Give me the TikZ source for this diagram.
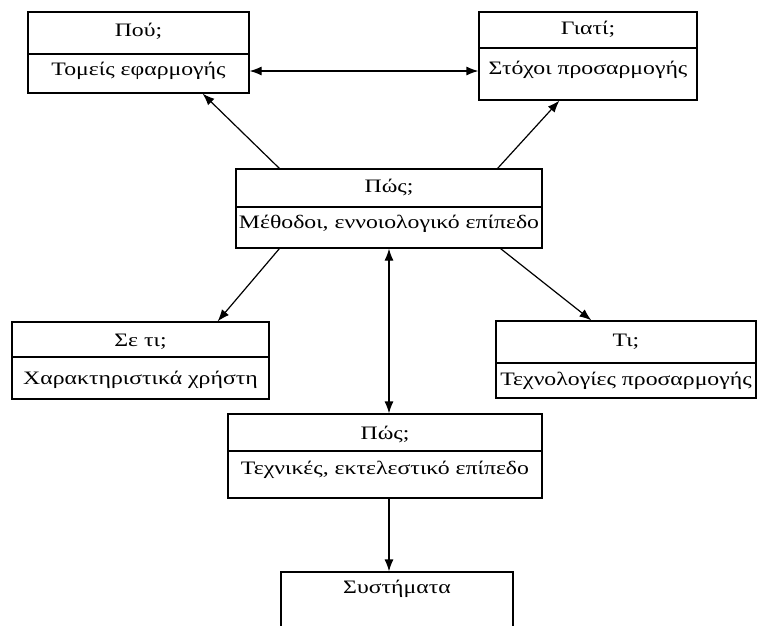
\documentclass[tikz,border=0pt]{standalone}
\usepackage{fontspec}
\setmainfont{Liberation Serif}[FakeStretch=1.25]
\usepackage{tikz}
\usetikzlibrary{arrows.meta}

\begin{document}
\begin{tikzpicture}[x=1pt, y=-1pt, line width=1.2pt, box/.style={draw, inner sep=0pt},
	txt/.style={inner sep=0pt, font=\fontsize{19}{22}\selectfont},
	link/.style={-{Latex[length=12pt,width=9pt]}},
	dlink/.style={{Latex[length=12pt,width=9pt]}-{Latex[length=12pt,width=9pt]}}]
			\clip (0,0) rectangle (761,625);
			\fill[white] (0,0) rectangle (761,625);
			% Boxes
			\node[box, minimum width=221, minimum height=81] (pou) at (138.5,52.5) {};
			\node[box, minimum width=218, minimum height=88] (giati) at (588,56) {};
			\node[box, minimum width=306, minimum height=79] (pos1) at (389,208.5) {};
			\node[box, minimum width=257, minimum height=77] (seti) at (140.5,360.5) {};
			\node[box, minimum width=260, minimum height=77] (ti) at (626,359.5) {};
			\node[box, minimum width=314, minimum height=84] (pos2) at (385,456) {};
			\node[box, minimum width=232, minimum height=90] (syst) at (397,617) {};
			% Dividers
			\draw (pou.west |- 0,54) -- (pou.east |- 0,54);
			\draw (giati.west |- 0,48) -- (giati.east |- 0,48);
			\draw (pos1.west |- 0,207) -- (pos1.east |- 0,207);
			\draw (seti.west |- 0,357) -- (seti.east |- 0,357);
			\draw (ti.west |- 0,363) -- (ti.east |- 0,363);
			\draw (pos2.west |- 0,451) -- (pos2.east |- 0,451);
			% Texts
			\node[txt] (pou1) at (138.5,31) {Πού;};
			\node[txt] (pou2) at (138.5,71) {Τομείς εφαρμογής};
			\node[txt] (giati1) at (588,29) {Γιατί;};
			\node[txt] (giati2) at (588,70) {Στόχοι προσαρμογής};
			\node[txt] (pos11) at (389,187) {Πώς;};
			\node[txt] (pos12) at (389,224) {Μέθοδοι, εννοιολογικό επίπεδο};
			\node[txt] (seti1) at (140.5,342) {Σε τι;};
			\node[txt] (seti2) at (140.5,380) {Χαρακτηριστικά χρήστη};
			\node[txt] (ti1) at (626,342) {Τι;};
			\node[txt] (ti2) at (626,381) {Τεχνολογίες προσαρμογής};
			\node[txt] (pos21) at (385,434) {Πώς;};
			\node[txt] (pos22) at (385,470) {Τεχνικές, εκτελεστικό επίπεδο};
			\node[txt] (syst1) at (397,589) {Συστήματα};
			% Edges
			\draw[dlink] (pou2 -| pou.east) -- (pou2 -| giati.west);
			\draw[link] ([xshift=44]pos1.north west) -- ([xshift=-47]pou.south east);
			\draw[link] ([xshift=-45]pos1.north east) -- ([xshift=81]giati.south west);
			\draw[link] ([xshift=44]pos1.south west) -- ([xshift=-52]seti.north east);
			\draw[link] ([xshift=-42]pos1.south east) -- ([xshift=96]ti.north west);
			\draw[dlink] (pos1.south) -- (pos1.south |- pos2.north);
			\draw[link] (pos1.south |- pos2.south) -- (pos1.south |- syst.north);
		\end{tikzpicture}
\end{document}
